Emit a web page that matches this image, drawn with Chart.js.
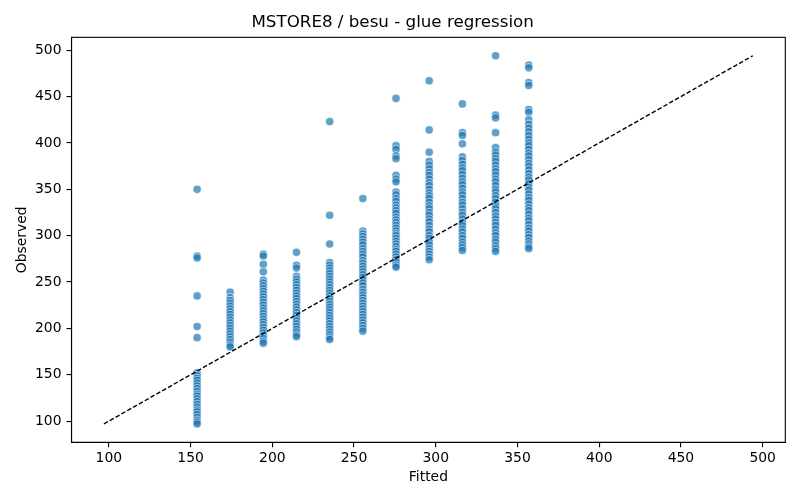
<!DOCTYPE html>
<html lang="en">
<head>
    <meta charset="UTF-8">
    <title>MSTORE8 / besu - glue regression</title>
    <script src="https://cdn.jsdelivr.net/npm/chart.js@4.4.0/dist/chart.umd.min.js"></script>
    <style>
        body {
            margin: 0;
            padding: 0;
            background: white;
        }
        #wrap {
            width: 800px;
            height: 500px;
        }
    </style>
</head>
<body>

<div id="wrap">
    <canvas id="glueChart" width="800" height="500"></canvas>
</div>

<script>
    // Fitted value of each column
    const fitted = [154.0, 174.2, 194.5, 214.8, 235.1, 255.4, 275.7, 296.0, 316.3, 336.6, 356.9];

    // Observed values, one list per fitted column
    const obs154 = [350, 278, 276, 235, 202, 190, 152, 149, 146, 144, 141, 138, 135, 132, 129, 127, 124, 121, 118, 115, 112, 110, 107, 104, 101, 99, 97];
    const obs174 = [239, 233, 230, 227, 224, 221, 218, 215, 212, 209, 206, 203, 200, 197, 194, 191, 188, 185, 182, 180];
    const obs195 = [280, 278, 269, 261, 252, 249, 246, 243, 240, 237, 234, 231, 228, 225, 222, 219, 216, 213, 210, 207, 204, 201, 198, 195, 192, 189, 186, 184];
    const obs215 = [282, 268, 265, 256, 253, 250, 247, 244, 241, 238, 235, 232, 229, 226, 223, 220, 217, 214, 211, 208, 205, 202, 199, 196, 193, 191];
    const obs235 = [423, 322, 291, 271, 268, 265, 262, 259, 256, 253, 250, 247, 244, 241, 238, 235, 232, 229, 226, 223, 220, 217, 214, 211, 208, 205, 202, 199, 196, 193, 190, 188];
    const obs256 = [340, 305, 302, 299, 296, 293, 290, 286, 283, 280, 277, 273, 270, 267, 264, 261, 258, 255, 252, 249, 246, 242, 239, 236, 233, 230, 227, 224, 221, 218, 215, 212, 209, 206, 203, 200, 197];
    const obs276 = [448, 397, 393, 386, 383, 365, 361, 358, 347, 344, 340, 337, 333, 330, 327, 324, 320, 317, 314, 311, 308, 305, 302, 300, 297, 294, 291, 288, 285, 283, 280, 277, 274, 271, 268, 266];
    const obs296 = [467, 414, 390, 380, 376, 372, 368, 365, 361, 357, 354, 350, 346, 343, 340, 336, 332, 329, 325, 322, 318, 315, 311, 307, 304, 300, 297, 293, 290, 286, 283, 280, 277, 274];
    const obs316 = [442, 411, 408, 399, 385, 381, 377, 373, 370, 366, 362, 358, 355, 351, 347, 344, 340, 336, 333, 329, 325, 322, 318, 314, 311, 307, 304, 300, 297, 293, 290, 287, 284];
    const obs337 = [494, 430, 427, 411, 395, 390, 387, 383, 380, 376, 372, 369, 365, 361, 358, 354, 350, 347, 343, 340, 336, 332, 329, 325, 321, 318, 314, 311, 307, 303, 300, 296, 293, 289, 286, 283];
    const obs357 = [484, 481, 465, 462, 436, 433, 425, 420, 416, 412, 408, 404, 400, 397, 393, 389, 386, 382, 378, 375, 371, 367, 363, 360, 356, 352, 349, 345, 341, 338, 334, 330, 327, 323, 319, 316, 312, 308, 305, 301, 298, 294, 291, 288, 286];
    const observed = [obs154, obs174, obs195, obs215, obs235, obs256, obs276, obs296, obs316, obs337, obs357];

    // Tick labels
    const xTicks = [100, 150, 200, 250, 300, 350, 400, 450, 500];
    const yTicks = [100, 150, 200, 250, 300, 350, 400, 450, 500];

    // Build scatter points
    const points = [];
    fitted.forEach((fx, i) => {
        observed[i].forEach(oy => points.push({ x: fx, y: oy }));
    });

    // Identity line spans the full data range, axes get 5% margin
    const allVals = points.map(p => p.x).concat(points.map(p => p.y));
    const lo = Math.min(...allVals);
    const hi = Math.max(...allVals);
    const margin = (hi - lo) * 0.05;

    const tickFont = { family: 'DejaVu Sans', size: 13.9 };

    // Draw the full box around the plot area
    const boxPlugin = {
        id: 'box',
        afterDraw(chart) {
            const a = chart.chartArea;
            const c = chart.ctx;
            c.save();
            c.strokeStyle = '#000';
            c.lineWidth = 1.1;
            c.strokeRect(a.left, a.top, a.right - a.left, a.bottom - a.top);
            c.restore();
        }
    };

    const ctx = document.getElementById('glueChart').getContext('2d');
    const glueChart = new Chart(ctx, {
        type: 'scatter',
        data: {
            datasets: [{
                type: 'line',
                data: [{ x: lo, y: lo }, { x: hi, y: hi }],
                borderColor: '#000',
                borderWidth: 1.4,
                borderDash: [4.5, 2.2],
                pointRadius: 0,
                fill: false,
                order: 0
            }, {
                data: points,
                backgroundColor: 'rgba(31, 119, 180, 0.7)',
                borderColor: 'rgba(255, 255, 255, 0.7)',
                borderWidth: 0.8,
                pointRadius: 4.1,
                order: 1
            }]
        },
        options: {
            responsive: false,
            animation: false,
            devicePixelRatio: 1,
            layout: { padding: { left: 0, right: 14.7, top: 0, bottom: 0 } },
            plugins: {
                legend: { display: false },
                tooltip: { enabled: false },
                title: {
                    display: true,
                    text: 'MSTORE8 / besu - glue regression',
                    color: '#000',
                    font: { family: 'DejaVu Sans', size: 16.7, weight: 'normal' },
                    padding: { top: 13, bottom: 4.3 }
                }
            },
            scales: {
                x: {
                    type: 'linear',
                    min: lo - margin,
                    max: hi + margin,
                    afterBuildTicks: scale => { scale.ticks = xTicks.map(v => ({ value: v })); },
                    afterFit: scale => { scale.height = 57.7; },
                    grid: { display: true, drawOnChartArea: false, drawTicks: true, tickLength: 5, color: '#000', lineWidth: 1.1 },
                    border: { display: true, color: '#000', width: 1.1 },
                    ticks: { color: '#000', font: tickFont, padding: 3, maxRotation: 0 },
                    title: { display: true, text: 'Fitted', color: '#000', font: tickFont, padding: { top: 0, bottom: 14 } }
                },
                y: {
                    type: 'linear',
                    min: lo - margin,
                    max: hi + margin,
                    afterBuildTicks: scale => { scale.ticks = yTicks.map(v => ({ value: v })); },
                    afterFit: scale => { scale.width = 71.5; },
                    grid: { display: true, drawOnChartArea: false, drawTicks: true, tickLength: 5, color: '#000', lineWidth: 1.1 },
                    border: { display: true, color: '#000', width: 1.1 },
                    ticks: { color: '#000', font: tickFont, padding: 5 },
                    title: { display: true, text: 'Observed', color: '#000', font: tickFont, padding: { top: 14, bottom: 0 } }
                }
            }
        },
        plugins: [boxPlugin]
    });
</script>

</body>
</html>
